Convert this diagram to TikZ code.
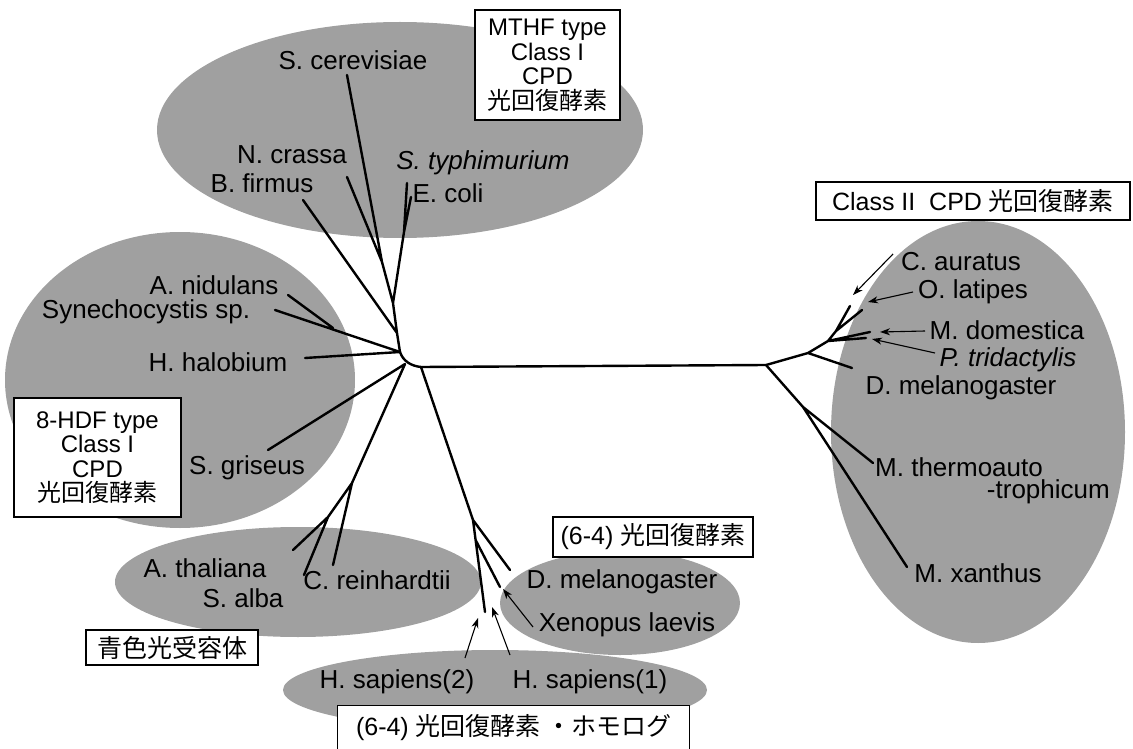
\documentclass[tikz,border=0pt]{standalone}
\usepackage{fontspec}
\setmainfont{Liberation Sans}
\newfontfamily\jp{Noto Sans CJK JP}
\usetikzlibrary{arrows.meta}
\definecolor{gry}{RGB}{160,160,160}
\begin{document}
\begin{tikzpicture}[x=1pt,y=-1pt,
  lbl/.style={font=\fontsize{26}{26}\selectfont, inner sep=0pt},
  boxlbl/.style={draw, fill=white, line width=1.4pt, font=\fontsize{24}{24.5}\selectfont, align=center, inner sep=0pt},
  br/.style={line width=2.4pt, line cap=round, line join=round},
  arr/.style={line width=1.1pt, -{Stealth[length=10pt,width=7pt,inset=3pt]}},
  blob/.style={fill=gry, draw=none}]
\useasboundingbox (0,0) rectangle (1133,749);
% gray regions
\fill[blob] (400,130) ellipse [x radius=243, y radius=108];
\fill[blob] (180,380) ellipse [x radius=175, y radius=148];
\fill[blob] (298,582) ellipse [x radius=183, y radius=55];
\fill[blob] (620,603) ellipse [x radius=120, y radius=52];
\fill[blob] (495,690) ellipse [x radius=212, y radius=40];
\fill[blob] (978,432) ellipse [x radius=147, y radius=211];
% coordinates
\coordinate (tScer) at (347,75);
\coordinate (tNcr) at (347,177);
\coordinate (u3) at (382,262);
\coordinate (u2) at (393,303);
\coordinate (tSty) at (407,183);
\coordinate (tEco) at (411,197);
\coordinate (u4) at (404,232);
\coordinate (u1) at (397,333);
\coordinate (tBfi) at (303,200);
\coordinate (pup) at (400,352);
\coordinate (tSyn) at (275,310);
\coordinate (tAni) at (288,295);
\coordinate (nan) at (333,328);
\coordinate (tHha) at (305,358);
\coordinate (hl) at (405,364);
\coordinate (pr) at (421,367);
\coordinate (r0) at (766,365);
\coordinate (tSgr) at (268,450);
\coordinate (b1) at (352,483);
\coordinate (tCre) at (333,565);
\coordinate (b2) at (328,517);
\coordinate (tAth) at (293,550);
\coordinate (tSal) at (304,575);
\coordinate (d1) at (473,520);
\coordinate (tDm6) at (510,570);
\coordinate (tHs) at (485,612);
\coordinate (d2) at (475.6,540);
\coordinate (tXen) at (500,587);
\coordinate (r1) at (808,353);
\coordinate (tDmR) at (852,368);
\coordinate (r2) at (828,341);
\coordinate (r3) at (836,331);
\coordinate (tCau) at (850,306);
\coordinate (tOla) at (862,310);
\coordinate (tMdo) at (870,332);
\coordinate (tPtr) at (866,338);
\coordinate (r4) at (803,407);
\coordinate (tMth) at (873,463);
\coordinate (tMxa) at (907,567);
% arrow ends
\coordinate (aCau) at (893,254); \coordinate (hCau) at (853,295);
\coordinate (aOla) at (913,292); \coordinate (hOla) at (868,302);
\coordinate (aMdo) at (925,331); \coordinate (hMdo) at (880,332);
\coordinate (aPtr) at (935,353); \coordinate (hPtr) at (872,339);
\coordinate (aXen) at (533,627); \coordinate (hXen) at (503,589);
\coordinate (aHs2) at (465,658); \coordinate (hHs2) at (478,618);
\coordinate (aHs1) at (510,655); \coordinate (hHs1) at (492,607);
% tree
\draw[br] (tScer) -- (u3) (tNcr) -- (u3) -- (u2) (tSty) -- (u4) (tEco) -- (u4) -- (u2) -- (u1) (tBfi) -- (u1) -- (pup);
\draw[br] (tSyn) -- (pup) (tAni) -- (nan) (tHha) -- (pup);
\draw[br] (pup) .. controls (403,361) and (411,366) .. (pr) -- (r0);
\draw[br] (hl) -- (tSgr) (hl) -- (b1) -- (tCre) (b1) -- (b2) -- (tAth) (b2) -- (tSal);
\draw[br] (pr) -- (d1) -- (tDm6) (d1) -- (tHs) (d2) -- (tXen);
\draw[br] (r0) -- (r1) -- (tDmR) (r1) -- (r2) -- (r3) -- (tCau) (r3) -- (tOla) (r2) -- (tMdo) (r2) -- (tPtr);
\draw[br] (r0) -- (r4) -- (tMth) (r4) -- (tMxa);
% arrows
\draw[arr] (aCau) -- (hCau);
\draw[arr] (aOla) -- (hOla);
\draw[arr] (aMdo) -- (hMdo);
\draw[arr] (aPtr) -- (hPtr);
\draw[arr] (aXen) -- (hXen);
\draw[arr] (aHs2) -- (hHs2);
\draw[arr] (aHs1) -- (hHs1);
% labels
\node[lbl] (scer) at (353,60) {S. cerevisiae};
\node[lbl] (ncr) at (292,155) {N. crassa};
\node[lbl] (bfi) at (262,183) {B. firmus};
\node[lbl] (sty) at (483,163) {\itshape S. typhimurium};
\node[lbl] (eco) at (448,193) {E. coli};
\node[lbl] (ani) at (214,285) {A. nidulans};
\node[lbl] (syn) at (146,312) {Synechocystis sp.};
\node[lbl] (hha) at (218,362) {H. halobium};
\node[lbl] (sgr) at (247,468) {S. griseus};
\node[lbl] (ath) at (205,568) {A. thaliana};
\node[lbl] (sal) at (243,598) {S. alba};
\node[lbl] (cre) at (377,580) {C. reinhardtii};
\node[lbl] (dm6) at (622,582) {D. melanogaster};
\node[lbl] (xen) at (627,625) {Xenopus laevis};
\node[lbl] (hs2) at (397,682) {H. sapiens(2)};
\node[lbl] (hs1) at (590,682) {H. sapiens(1)};
\node[lbl] (cau) at (961,262) {C. auratus};
\node[lbl] (ola) at (973,292) {O. latipes};
\node[lbl] (mdo) at (1007,330) {M. domestica};
\node[lbl] (ptr) at (1008,360) {\itshape P. tridactylis};
\node[lbl] (dmr) at (961,388) {D. melanogaster};
\node[lbl, anchor=west] (mth) at (875,467) {M. thermoauto};
\node[lbl, anchor=east] (mth2) at (1110,492) {-trophicum};
\node[lbl] (mxa) at (978,573) {M. xanthus};
% boxes
\node[boxlbl, minimum width=145, minimum height=110] (bMTHF) at (547.5,65) {MTHF type\\Class I\\CPD\\{\jp 光回復酵素}};
\node[boxlbl, minimum width=167, minimum height=119] (bHDF) at (97.5,457.5) {8-HDF type\\Class I\\CPD\\{\jp 光回復酵素}};
\node[boxlbl, minimum width=314, minimum height=38, font=\fontsize{25}{25}\selectfont] (bII) at (973,201) {Class II\ \ CPD {\jp 光回復酵素}};
\node[boxlbl, minimum width=172, minimum height=35, font=\fontsize{25}{25}\selectfont] (bBlue) at (172,647.5) {\jp 青色光受容体};
\node[boxlbl, minimum width=200, minimum height=40, font=\fontsize{25}{25}\selectfont] (b64) at (653,537) {(6-4) {\jp 光回復酵素}};
\node[boxlbl, minimum width=352, minimum height=44, anchor=north west, font=\fontsize{25}{25}\selectfont] (b64h) at (337,705) {(6-4) {\jp 光回復酵素\ ・ホモログ}};
\end{tikzpicture}
\end{document}
